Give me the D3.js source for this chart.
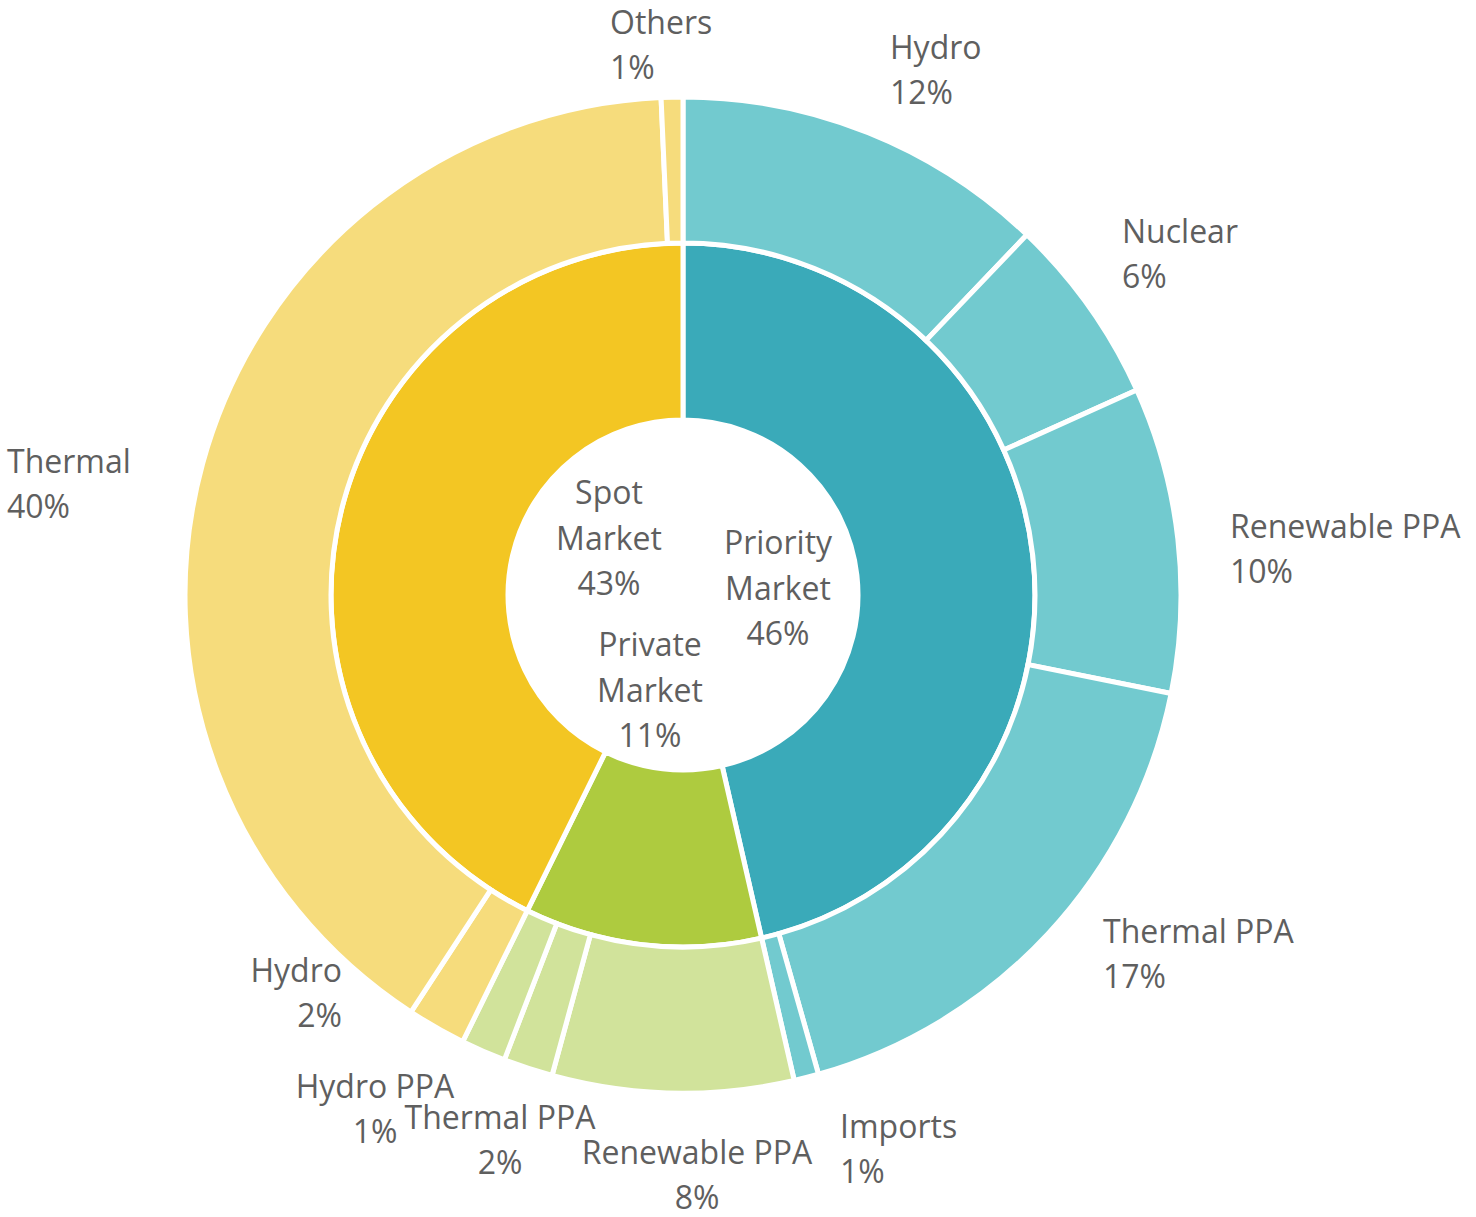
<!DOCTYPE html>
<html>
<head>
<meta charset="utf-8">
<script src="https://cdn.jsdelivr.net/npm/d3@7"></script>
<style>
  body { margin: 0; background: #fff; }
  text { font-family: "Open Sans", "Noto Sans", sans-serif; fill: #5f5f5f; }
</style>
</head>
<body>
<svg width="1476" height="1217"></svg>
<script>
// market split (inner ring) and sources in each market (outer ring), % of total
var markets = ["Priority Market", "Private Market", "Spot Market"];

var priorityNames = ["Hydro", "Nuclear", "Renewable PPA", "Thermal PPA", "Imports"];
var priorityValues = [12.1, 6.1, 9.9, 17.4, 0.8];

var privateNames = ["Renewable PPA", "Thermal PPA", "Hydro PPA"];
var privateValues = [7.8, 1.6, 1.45];

var spotNames = ["Hydro", "Thermal", "Others"];
var spotValues = [1.9, 40.0, 0.7];

var innerColors = ["#3aaab9", "#aecb3f", "#f3c623"];
var outerColors = ["#72cacf", "#d1e39b", "#f6dc7c"];

// label placement, offsets from the chart centre: [dx, dy of first line, anchor]
var innerLabelPos = [[95, -52, "middle"], [-33, 50, "middle"], [-74, -102, "middle"]];
var outerLabelPos = [
  [[207, -547, "start"], [439, -363, "start"], [547, -68, "start"], [420, 337, "start"], [157, 532, "start"]],
  [[14, 558, "middle"], [-183, 523, "middle"], [-308, 492, "middle"]],
  [[-341, 376, "end"], [-676, -133, "start"], [-73, -572, "start"]]
];

var svg = d3.select("svg"),
    cx = 683,
    cy = 595,
    lineH = 45;

var groups = [
  {names: priorityNames, values: priorityValues},
  {names: privateNames, values: privateValues},
  {names: spotNames, values: spotValues}
];

var tree = {
  name: "all",
  children: markets.map(function (m, i) {
    return {
      name: m, idx: i,
      children: groups[i].names.map(function (n, j) {
        return {name: n, idx: j, value: groups[i].values[j]};
      })
    };
  })
};

var root = d3.hierarchy(tree).sum(function (d) { return d.value || 0; });
// three levels (root, market, source) -> depth d spans [d, d + 1]
d3.partition().size([2 * Math.PI, 3])(root);

var total = root.value;

var radius = d3.scaleLinear().domain([1, 2, 3]).range([175, 352, 498]);

var arc = d3.arc()
    .startAngle(function (d) { return d.x0; })
    .endAngle(function (d) { return d.x1; })
    .innerRadius(function (d) { return radius(d.y0); })
    .outerRadius(function (d) { return radius(d.y1); });

var g = svg.append("g")
    .attr("transform", "translate(" + cx + "," + cy + ")");

var nodes = root.descendants().filter(function (d) { return d.depth > 0; });

g.selectAll("path")
    .data(nodes)
    .enter().append("path")
    .attr("d", arc)
    .attr("fill", function (d) {
      return d.depth === 1 ? innerColors[d.data.idx] : outerColors[d.parent.data.idx];
    })
    .attr("stroke", "#fff")
    .attr("stroke-width", 5);

function pct(d) {
  return Math.round(d.value / total * 100) + "%";
}

function labelLines(d) {
  if (d.depth === 1) {
    return d.data.name.split(" ").concat([pct(d)]);
  }
  return [d.data.name, pct(d)];
}

g.selectAll("text.lbl")
    .data(nodes)
    .enter().append("text")
    .attr("class", "lbl")
    .attr("font-size", 32)
    .each(function (d) {
      var p = d.depth === 1 ? innerLabelPos[d.data.idx] : outerLabelPos[d.parent.data.idx][d.data.idx];
      var t = d3.select(this)
          .attr("text-anchor", p[2])
          .attr("transform", "translate(" + p[0] + "," + p[1] + ")");
      labelLines(d).forEach(function (line, k) {
        t.append("tspan")
            .attr("x", 0)
            .attr("y", k * (d.depth === 1 ? 45.5 : lineH))
            .attr("dy", "0.35em")
            .text(line);
      });
    });
</script>
</body>
</html>
